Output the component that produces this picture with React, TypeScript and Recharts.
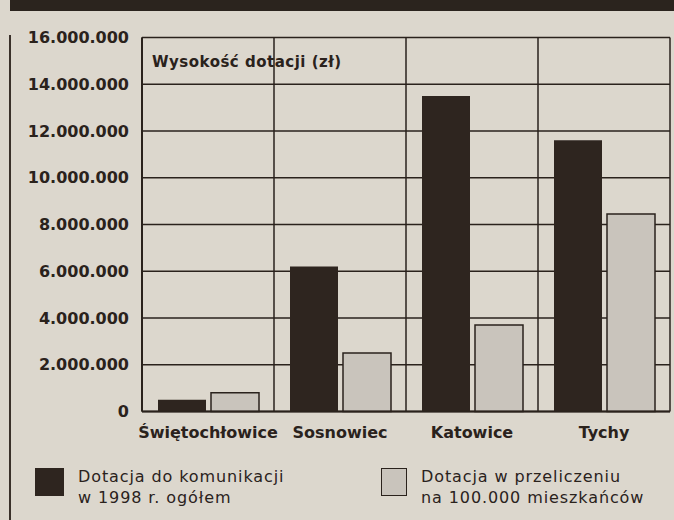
import React from 'react';
import { BarChart, Bar, XAxis, YAxis, CartesianGrid, Legend, Label } from 'recharts';

const categories = ['Świętochłowice', 'Sosnowiec', 'Katowice', 'Tychy'];
const totalSubsidy = [500000, 6200000, 13500000, 11600000];
const perCapitaSubsidy = [800000, 2500000, 3700000, 8450000];
const yTicks = [0, 2000000, 4000000, 6000000, 8000000, 10000000, 12000000, 14000000, 16000000];
const seriesNames = ['Dotacja do komunikacji\nw 1998 r. ogółem', 'Dotacja w przeliczeniu\nna 100.000 mieszkańców'];
const axisTitle = 'Wysokość dotacji (zł)';

const data = categories.map((c, i) => ({ name: c, total: totalSubsidy[i], perCapita: perCapitaSubsidy[i] }));

const DARK = '#2e251f';
const LIGHT = '#c9c4bc';
const INK = '#2a221c';
const BG = '#dcd7cd';
const FONT = '"DejaVu Sans", sans-serif';

const fmt = (v: number) => String(v).replace(/\B(?=(\d{3})+(?!\d))/g, '.');

const LegendContent = () => {
  const items = [
    { name: seriesNames[0], fill: DARK, stroke: DARK, left: 35, textLeft: 78 },
    { name: seriesNames[1], fill: LIGHT, stroke: INK, left: 381, textLeft: 421 },
  ];
  return (
    <div style={{ position: 'relative', width: 674, height: 70, fontFamily: FONT }}>
      {items.map((it, i) => (
        <React.Fragment key={i}>
          <div
            style={{
              position: 'absolute',
              left: it.left,
              top: 18,
              width: i === 0 ? 29 : 26,
              height: 28,
              background: it.fill,
              border: i === 0 ? 'none' : `1.5px solid ${it.stroke}`,
              boxSizing: 'border-box',
            }}
          />
          <div
            style={{
              position: 'absolute',
              left: it.textLeft,
              top: 16,
              fontSize: 16,
              letterSpacing: 0.9,
              lineHeight: '21px',
              color: INK,
              whiteSpace: 'pre',
              textAlign: 'left',
            }}
          >
            {it.name}
          </div>
        </React.Fragment>
      ))}
    </div>
  );
};

export default function App() {
  return (
    <div style={{ position: 'absolute', left: 0, top: 0, width: 674, height: 520, background: BG, overflow: 'hidden' }}>
      <div style={{ position: 'absolute', left: 10, top: 0, width: 664, height: 11, background: '#2b241e' }} />
      <div style={{ position: 'absolute', left: 9, top: 35, width: 2, height: 485, background: '#3a312a' }} />
      <BarChart
        width={674}
        height={520}
        data={data}
        margin={{ top: 37.5, right: 4, bottom: 0, left: 0 }}
        barCategoryGap={16}
        barGap={5}
      >
        <CartesianGrid
          stroke={INK}
          strokeWidth={1.5}
          horizontalValues={yTicks}
          verticalCoordinatesGenerator={({ offset }: any) =>
            [0, 1, 2, 3, 4].map((i) => offset.left + (i * offset.width) / categories.length)
          }
        />
        <XAxis
          dataKey="name"
          height={38.5}
          axisLine={{ stroke: INK, strokeWidth: 2 }}
          tickLine={false}
          tickSize={0}
          tickMargin={15}
          tick={{ fill: INK, fontSize: 16, fontWeight: 'bold', fontFamily: FONT }}
          interval={0}
        />
        <YAxis
          width={142}
          domain={[0, 16000000]}
          ticks={yTicks}
          tickFormatter={fmt}
          axisLine={{ stroke: INK, strokeWidth: 2 }}
          tickLine={false}
          tickSize={0}
          tickMargin={13}
          tick={{ fill: INK, fontSize: 16, fontWeight: 'bold', fontFamily: FONT }}
          interval={0}
        >
          <Label
            content={(props: any) => {
              const vb = props.viewBox || { x: 0, y: 37.5, width: 142 };
              return (
                <text
                  x={vb.x + vb.width + 10}
                  y={vb.y + 29}
                  fill={INK}
                  fontSize={15}
                  fontWeight="bold"
                  fontFamily={FONT}
                  letterSpacing={0.5}
                >
                  {axisTitle}
                </text>
              );
            }}
          />
        </YAxis>
        <Legend verticalAlign="bottom" wrapperStyle={{ left: 0, bottom: 0, width: 674, height: 70 }} content={<LegendContent />} />
        <Bar dataKey="total" name={seriesNames[0]} fill={DARK} isAnimationActive={false} />
        <Bar dataKey="perCapita" name={seriesNames[1]} fill={LIGHT} stroke={INK} strokeWidth={1.5} isAnimationActive={false} />
      </BarChart>
    </div>
  );
}
